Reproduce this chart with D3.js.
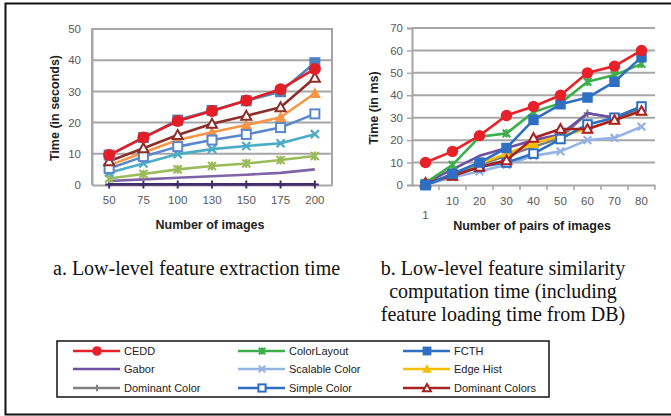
<!DOCTYPE html>
<html><head><meta charset="utf-8">
<script src="https://cdn.jsdelivr.net/npm/d3@7"></script>
<style>body{margin:0;background:#fff}svg{display:block}</style>
</head><body>
<svg id="c" width="671" height="416"></svg>
<script>
// ---------- DATA ----------
const seriesNames = ["CEDD","ColorLayout","FCTH","Gabor","Scalable Color","Edge Hist","Dominant Color","Simple Color","Dominant Colors"];

// Chart a: extraction time (seconds)
const extractCategories = ["50","75","100","130","150","175","200"];
const extractYTicks = [0,10,20,30,40,50];
const extractCEDD           = [9.6,15.2,20.5,23.7,27.1,30.7,37.2];
const extractColorLayout    = [2.1,3.5,5.0,6.1,6.9,8.0,9.3];
const extractFCTH           = [9.6,15.2,20.8,23.9,27.0,29.9,39.2];
const extractGabor          = [1.3,1.8,2.3,2.8,3.3,3.9,5.0];
const extractScalableColor  = [3.9,6.9,9.9,11.5,12.5,13.4,16.3];
const extractEdgeHist       = [6.3,10.4,14.4,16.9,19.2,21.7,29.4];
const extractDominantColor  = [0.2,0.2,0.2,0.2,0.2,0.2,0.2];
const extractSimpleColor    = [5.3,9.1,12.3,14.4,16.2,18.4,22.8];
const extractDominantColors = [7.6,11.8,16.0,19.6,22.2,24.9,34.4];

// Chart b: similarity computation time (ms)
const simCategories = ["1","10","20","30","40","50","60","70","80"];
const simYTicks = [0,10,20,30,40,50,60,70];
const simCEDD           = [10,15,22,31,35,40,50,53,60];
const simColorLayout    = [1,9,21.5,23,32.5,36.5,46,49,54];
const simFCTH           = [0,5,10,16.5,29,36,39,46,57];
const simGabor          = [1,7,13,16.5,20,22.5,32,30,35];
const simScalableColor  = [0,3.5,6,9,13,15,20,21,26];
const simEdgeHist       = [1,4,9.5,14,18.5,22,25,29,33];
const simDominantColor  = [1,4,9,13,17,21,32,30,34];
const simSimpleColor    = [0,4.5,8,10,14,20.5,27,30,35];
const simDominantColors = [1,4,8,11,21,25,25,29,33];

// ---------- STYLES ----------
const styleA = {
  "CEDD":{c:"#e41e26",m:"circle"}, "ColorLayout":{c:"#9bbb59",m:"star"}, "FCTH":{c:"#4f81bd",m:"square"},
  "Gabor":{c:"#7f63a8",m:"none"}, "Scalable Color":{c:"#4bacc6",m:"x"}, "Edge Hist":{c:"#f79646",m:"triangle"},
  "Dominant Color":{c:"#3f2e6b",m:"plus"}, "Simple Color":{c:"#5b87cc",m:"osquare"}, "Dominant Colors":{c:"#8c2f2a",m:"otriangle"}
};
const styleB = {
  "CEDD":{c:"#e8202a",m:"circle"}, "ColorLayout":{c:"#3daf4a",m:"star"}, "FCTH":{c:"#2e6fc1",m:"square"},
  "Gabor":{c:"#6e4fa3",m:"none"}, "Scalable Color":{c:"#95b3e2",m:"x"}, "Edge Hist":{c:"#f5bf00",m:"triangle"},
  "Dominant Color":{c:"#808080",m:"plus"}, "Simple Color":{c:"#2e6fc1",m:"osquare"}, "Dominant Colors":{c:"#a82224",m:"otriangle"}
};
const drawOrder = ["Dominant Color","Gabor","ColorLayout","Scalable Color","Edge Hist","Simple Color","Dominant Colors","FCTH","CEDD"];

const tableA = {"CEDD":extractCEDD,"ColorLayout":extractColorLayout,"FCTH":extractFCTH,"Gabor":extractGabor,
  "Scalable Color":extractScalableColor,"Edge Hist":extractEdgeHist,"Dominant Color":extractDominantColor,
  "Simple Color":extractSimpleColor,"Dominant Colors":extractDominantColors};
const tableB = {"CEDD":simCEDD,"ColorLayout":simColorLayout,"FCTH":simFCTH,"Gabor":simGabor,
  "Scalable Color":simScalableColor,"Edge Hist":simEdgeHist,"Dominant Color":simDominantColor,
  "Simple Color":simSimpleColor,"Dominant Colors":simDominantColors};

const svg = d3.select("#c");
const SANS = "'Liberation Sans', Arial, sans-serif";
const GRID = "#a6a6a6";

function marker(g, type, x, y, color, s) {
  s = s || 1;
  if (type === "circle") g.append("circle").attr("cx",x).attr("cy",y).attr("r",6*s).attr("fill",color);
  else if (type === "square") g.append("rect").attr("x",x-5.5*s).attr("y",y-5.5*s).attr("width",11*s).attr("height",11*s).attr("fill",color);
  else if (type === "osquare") g.append("rect").attr("x",x-4.5*s).attr("y",y-4.5*s).attr("width",9*s).attr("height",9*s).attr("fill","#fff").attr("stroke",color).attr("stroke-width",2);
  else if (type === "triangle") { const h=6*s; g.append("path").attr("d",`M${x},${y-h}L${x+h},${y+h*0.8}L${x-h},${y+h*0.8}Z`).attr("fill",color); }
  else if (type === "otriangle") { const h=5*s; g.append("path").attr("d",`M${x},${y-h}L${x+h},${y+h*0.8}L${x-h},${y+h*0.8}Z`).attr("fill","#fff").attr("stroke",color).attr("stroke-width",2); }
  else if (type === "x") { const h=4*s; g.append("path").attr("d",`M${x-h},${y-h}L${x+h},${y+h}M${x-h},${y+h}L${x+h},${y-h}`).attr("stroke",color).attr("stroke-width",2.2); }
  else if (type === "star") { const h=4*s; g.append("path").attr("d",`M${x-h},${y-h}L${x+h},${y+h}M${x-h},${y+h}L${x+h},${y-h}M${x},${y-h*1.1}L${x},${y+h*1.1}`).attr("stroke",color).attr("stroke-width",2.2); }
  else if (type === "plus") { const h=4*s; g.append("path").attr("d",`M${x},${y-h}L${x},${y+h}M${x-h},${y}L${x+h},${y}`).attr("stroke",color).attr("stroke-width",2); }
}

function drawChart(opt) {
  const g = svg.append("g");
  const x = d3.scaleBand().domain(opt.cats).range([opt.x0, opt.x1]);
  const y = d3.scaleLinear().domain([0, opt.ymax]).range([185, opt.ytop]);
  const cx = d => x(d) + x.bandwidth()/2;
  g.append("g").selectAll("line").data(opt.yticks.filter(t=>t>0)).join("line")
    .attr("x1",opt.x0).attr("x2",opt.x1).attr("y1",d=>y(d)).attr("y2",d=>y(d))
    .attr("stroke",GRID).attr("stroke-width",2);
  const ya = g.append("g").attr("transform",`translate(${opt.x0},0)`)
    .call(d3.axisLeft(y).tickValues(opt.yticks).tickSize(opt.yTick).tickPadding(opt.yPad));
  ya.select(".domain").attr("stroke",GRID).attr("stroke-width",2);
  ya.selectAll(".tick line").attr("stroke",GRID).attr("stroke-width",1.5);
  ya.selectAll("text").attr("fill","#595959").style("font-family",SANS).style("font-size","11.5px");
  const xa = g.append("g").attr("transform",`translate(0,185)`)
    .call(d3.axisBottom(x).tickSize(0).tickPadding(opt.xPad));
  xa.select(".domain").attr("stroke",GRID).attr("stroke-width",2);
  xa.selectAll("text").attr("fill","#595959").style("font-family",SANS).style("font-size","11.5px");
  if (opt.staggerFirst) xa.selectAll(".tick text").filter((d,i)=>i===0).attr("dy","1.95em");
  if (opt.xTicks) {
    const b = opt.cats.map(c=>x(c)).slice(1).concat([opt.x1]);
    g.append("g").selectAll("line").data(b).join("line")
      .attr("x1",d=>d).attr("x2",d=>d).attr("y1",185).attr("y2",190)
      .attr("stroke",GRID).attr("stroke-width",1.5);
  }
  if (opt.border) {
    g.append("path").attr("d",`M${opt.x0},185V${opt.ytop}H${opt.x1}V185`).attr("fill","none").attr("stroke",GRID).attr("stroke-width",2);
  }
  const line = d3.line().x((d,i)=>cx(opt.cats[i])).y(d=>y(d));
  drawOrder.forEach(name => {
    const st = opt.style[name], vals = opt.table[name];
    g.append("path").attr("d",line(vals)).attr("fill","none").attr("stroke",st.c).attr("stroke-width",2.6).attr("stroke-linejoin","round");
    vals.forEach((v,i)=>marker(g, st.m, cx(opt.cats[i]), y(v), st.c, opt.ms));
  });
  g.append("text").attr("transform",`translate(${opt.ytx},${opt.yty}) rotate(-90)`).attr("text-anchor","middle")
    .style("font-family",SANS).style("font-weight","bold").style("font-size","12.5px").attr("fill","#222").text(opt.ytitle);
  g.append("text").attr("x",opt.xtx).attr("y",opt.xty).attr("text-anchor","middle")
    .style("font-family",SANS).style("font-weight","bold").style("font-size","12.5px").attr("fill","#222").text(opt.xtitle);
}

drawChart({cats:extractCategories, x0:92, x1:332, ymax:50, ytop:29, yticks:extractYTicks, yTick:0, yPad:11, xPad:11,
  style:styleA, table:tableA, border:true, ytitle:"Time (in seconds)", ytx:59, yty:108, xtitle:"Number of images", xtx:210, xty:229, ms:1});
drawChart({cats:simCategories, x0:412, x1:655, ymax:70, ytop:28, yticks:simYTicks, yTick:5, yPad:4, xPad:12, xTicks:true, staggerFirst:true,
  style:styleB, table:tableB, border:false, ytitle:"Time (in ms)", ytx:378, yty:108, xtitle:"Number of pairs of images", xtx:532, xty:230, ms:0.95});

// captions
const SERIF = "'Liberation Serif','Times New Roman',serif";
const cap = svg.append("g").style("font-family",SERIF).style("font-size","20px").attr("fill","#111");
cap.append("text").attr("x",53).attr("y",275).text("a. Low-level feature extraction time");
["b. Low-level feature similarity","computation time (including","feature loading time from DB)"].forEach((t,i)=>
  cap.append("text").attr("x",503).attr("y",275+i*23).attr("text-anchor","middle").text(t));

// legend
const lg = svg.append("g");
lg.append("rect").attr("x",57).attr("y",341).attr("width",492).attr("height",56).attr("fill","none").attr("stroke","#111").attr("stroke-width",1.5);
const colX = [73,238,403], rowY = [351,369,388];
seriesNames.forEach((n,i)=>{
  const cxp = colX[i%3], cy = rowY[Math.floor(i/3)], st = styleB[n];
  lg.append("line").attr("x1",cxp).attr("x2",cxp+47).attr("y1",cy).attr("y2",cy).attr("stroke",st.c).attr("stroke-width",2.6);
  marker(lg, st.m, cxp+24, cy, st.c, 0.8);
  lg.append("text").attr("x",cxp+51).attr("y",cy+4).style("font-family",SANS).style("font-size","11px").attr("fill","#222").text(n);
});

// outer frame
svg.append("path").attr("d","M671,3.5H5.5V414.5H671").attr("fill","none").attr("stroke","#111").attr("stroke-width",2);
</script>
</body></html>
